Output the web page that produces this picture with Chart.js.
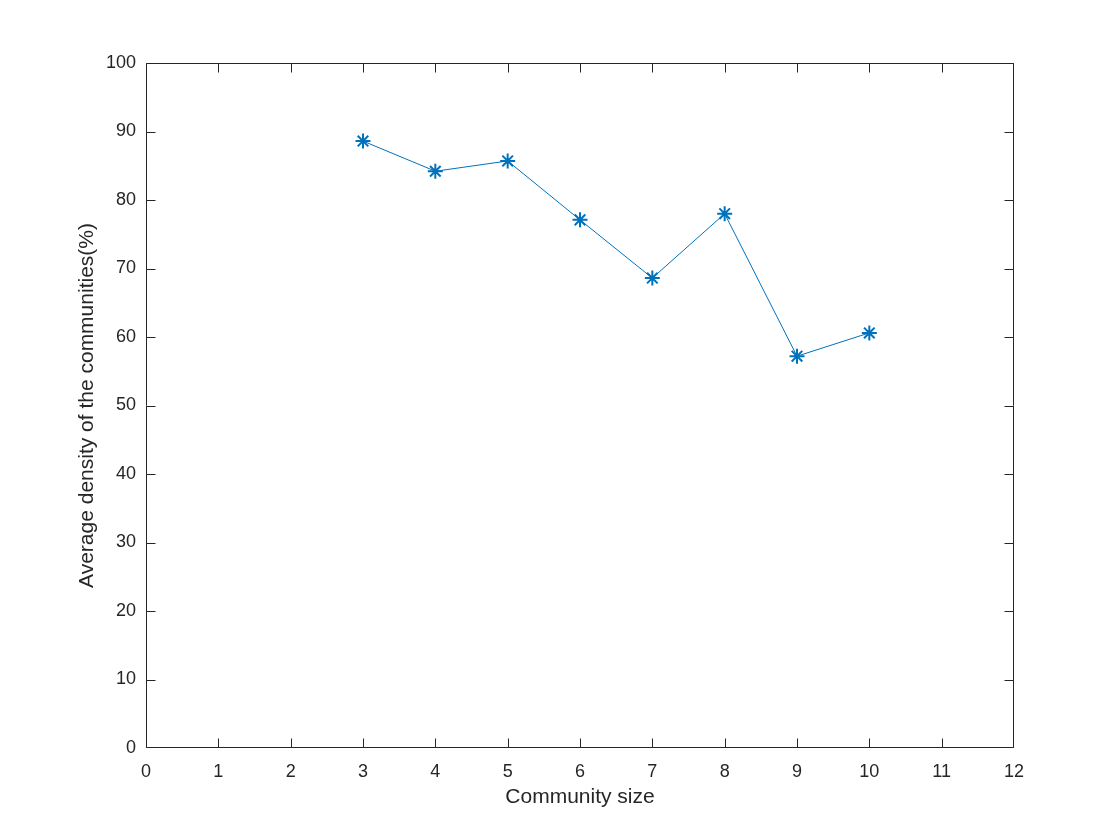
<!DOCTYPE html>
<html>
<head>
<meta charset="utf-8">
<script src="https://cdn.jsdelivr.net/npm/chart.js@4/dist/chart.umd.min.js"></script>
<style>
  html, body { margin: 0; padding: 0; background: #fff; }
  #wrap { width: 1120px; height: 840px; position: relative; }
</style>
</head>
<body>
<div id="wrap"><canvas id="chart" width="1120" height="840"></canvas></div>
<script>
/* ── Community density chart ── */

const communitySizes = [3, 4, 5, 6, 7, 8, 9, 10];
const avgDensity = [88.6, 84.2, 85.7, 77.1, 68.6, 78.0, 57.2, 60.6];
const xTicks = [0, 1, 2, 3, 4, 5, 6, 7, 8, 9, 10, 11, 12];
const yTicks = [0, 10, 20, 30, 40, 50, 60, 70, 80, 90, 100];

const AXIS = '#262626';
const FONT = '"Liberation Sans", Arial, Helvetica, sans-serif';

// MATLAB-style box with inward ticks on all four sides
const boxTicks = {
  id: 'boxTicks',
  afterDraw(chart) {
    const { ctx, chartArea: a, scales } = chart;
    const len = 9;
    const L = Math.round(a.left) + 0.5, R = Math.round(a.right) - 0.5;
    const T = Math.round(a.top) + 0.5, B = Math.round(a.bottom) - 0.5;
    ctx.save();
    ctx.strokeStyle = AXIS;
    ctx.lineWidth = 1;
    ctx.beginPath();
    ctx.rect(L, T, R - L, B - T);
    xTicks.forEach(v => {
      const x = Math.min(R, Math.max(L, Math.round(scales.x.getPixelForValue(v)) + 0.5));
      ctx.moveTo(x, B); ctx.lineTo(x, B - len);
      ctx.moveTo(x, T); ctx.lineTo(x, T + len);
    });
    yTicks.forEach(v => {
      const y = Math.min(B, Math.max(T, Math.round(scales.y.getPixelForValue(v)) + 0.5));
      ctx.moveTo(L, y); ctx.lineTo(L + len, y);
      ctx.moveTo(R, y); ctx.lineTo(R - len, y);
    });
    ctx.stroke();
    ctx.restore();
  }
};

new Chart(document.getElementById('chart').getContext('2d'), {
  type: 'line',
  data: {
    datasets: [{
      data: communitySizes.map((s, i) => ({ x: s, y: avgDensity[i] })),
      borderColor: '#0072BD',
      backgroundColor: '#0072BD',
      borderWidth: 1,
      pointStyle: 'star',
      pointRadius: 7.5,
      pointBorderWidth: 2,
      pointBorderColor: '#0072BD',
      tension: 0,
      fill: false,
    }]
  },
  options: {
    responsive: false,
    animation: false,
    layout: { padding: { top: 63, right: 106, left: 0, bottom: 0 } },
    plugins: { legend: { display: false }, tooltip: { enabled: false } },
    scales: {
      x: {
        type: 'linear', min: 0, max: 12,
        afterFit: s => { s.height = 92; },
        afterBuildTicks: s => { s.ticks = xTicks.map(v => ({ value: v })); },
        grid: { display: false, drawTicks: false },
        border: { display: false },
        ticks: { color: AXIS, font: { family: FONT, size: 18 }, padding: 13, maxRotation: 0 },
        title: { display: true, text: 'Community size', color: AXIS,
                 font: { family: FONT, size: 21 }, padding: { top: 0, bottom: 30 } }
      },
      y: {
        type: 'linear', min: 0, max: 100,
        afterFit: s => { s.width = 146; },
        afterBuildTicks: s => { s.ticks = yTicks.map(v => ({ value: v })); },
        grid: { display: false, drawTicks: false },
        border: { display: false },
        ticks: { color: AXIS, font: { family: FONT, size: 18 }, padding: 10 },
        title: { display: true, text: 'Average density of the communities(%)', color: AXIS,
                 font: { family: FONT, size: 21 }, padding: { top: 75, bottom: 0 } }
      }
    }
  },
  plugins: [boxTicks]
});
</script>
</body>
</html>
